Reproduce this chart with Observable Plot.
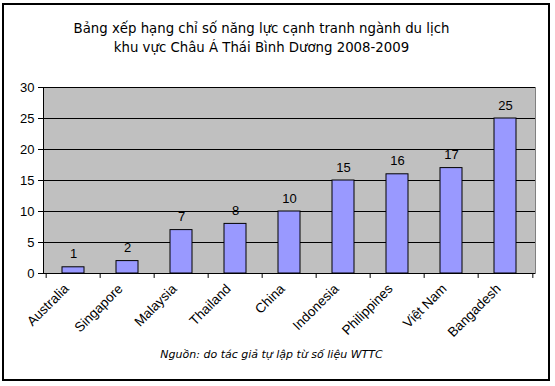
<!DOCTYPE html>
<html>
<head>
<meta charset="utf-8">
<script src="https://cdn.jsdelivr.net/npm/d3@7"></script>
<script src="https://cdn.jsdelivr.net/npm/@observablehq/plot@0.6"></script>
<style>
  html, body { margin: 0; padding: 0; background: #fff; }
  body { position: relative; width: 555px; height: 386px; overflow: hidden; }
  #frame { position: absolute; left: 2px; top: 3px; width: 544px; height: 374px; border: 2px solid #000; }
  #title { position: absolute; left: -16px; top: 19px; width: 555px; text-align: center;
           font-family: "DejaVu Sans", sans-serif; font-size: 13.3px; line-height: 19px; color: #000; }
  #chart { position: absolute; left: 0; top: 60px; }
  #caption { position: absolute; left: -4px; top: 348px; width: 551px; text-align: center;
             font-family: "DejaVu Sans", sans-serif; font-style: italic; font-size: 11px; color: #000; }
</style>
</head>
<body>
<div id="frame"></div>
<div id="title">Bảng xếp hạng chỉ số năng lực cạnh tranh ngành du lịch<br>khu vực Châu Á Thái Bình Dương 2008-2009</div>
<div id="chart"></div>
<div id="caption">Nguồn: do tác giả tự lập từ số liệu WTTC</div>
<script>
const countries = ["Australia", "Singapore", "Malaysia", "Thailand", "China", "Indonesia", "Philippines", "Việt Nam", "Bangadesh"];
const ranks = [1, 2, 7, 8, 10, 15, 16, 17, 25];
const yTicks = [0, 5, 10, 15, 20, 25, 30];

const data = countries.map((c, i) => ({country: c, rank: ranks[i]}));

const W = 555, ML = 43, MR = 20;
const step = (W - ML - MR) / countries.length;

const chart = Plot.plot({
  width: W,
  height: 283,
  marginLeft: ML,
  marginRight: MR,
  marginTop: 27,
  marginBottom: 70,
  style: {fontFamily: "'Liberation Sans', Arial, sans-serif", fontSize: "13px", color: "#000", background: "transparent", overflow: "visible"},
  x: {domain: countries, padding: 0, label: null},
  y: {domain: [0, 30], label: null},
  marks: [
    Plot.frame({fill: "#c0c0c0", stroke: "#808080"}),
    Plot.gridY(yTicks, {stroke: "#000", strokeOpacity: 1}),
    Plot.frame({anchor: "left", stroke: "#000"}),
    Plot.barY(data, {x: "country", y: "rank", fill: "#9999ff", stroke: "#000", strokeWidth: 1, insetLeft: 16, insetRight: 16}),
    Plot.text(data, {x: "country", y: "rank", text: d => String(d.rank), dy: -13, fontSize: 13, fill: "#000"}),
    Plot.ruleX(countries, {x: d => d, y1: 0, y2: -0.8, dx: -step / 2, stroke: "#000", clip: false}),
    Plot.ruleX(countries.slice(-1), {x: d => d, y1: 0, y2: -0.8, dx: step / 2, stroke: "#000", clip: false}),
    Plot.axisY(yTicks, {tickSize: 5, tickPadding: 4, stroke: "#000", fontSize: 13, label: null}),
    Plot.axisX({tickSize: 0, tickRotate: -45, tickPadding: 13, dx: -7, fontSize: 13.5, label: null})
  ]
});
document.getElementById("chart").appendChild(chart);
</script>
</body>
</html>
